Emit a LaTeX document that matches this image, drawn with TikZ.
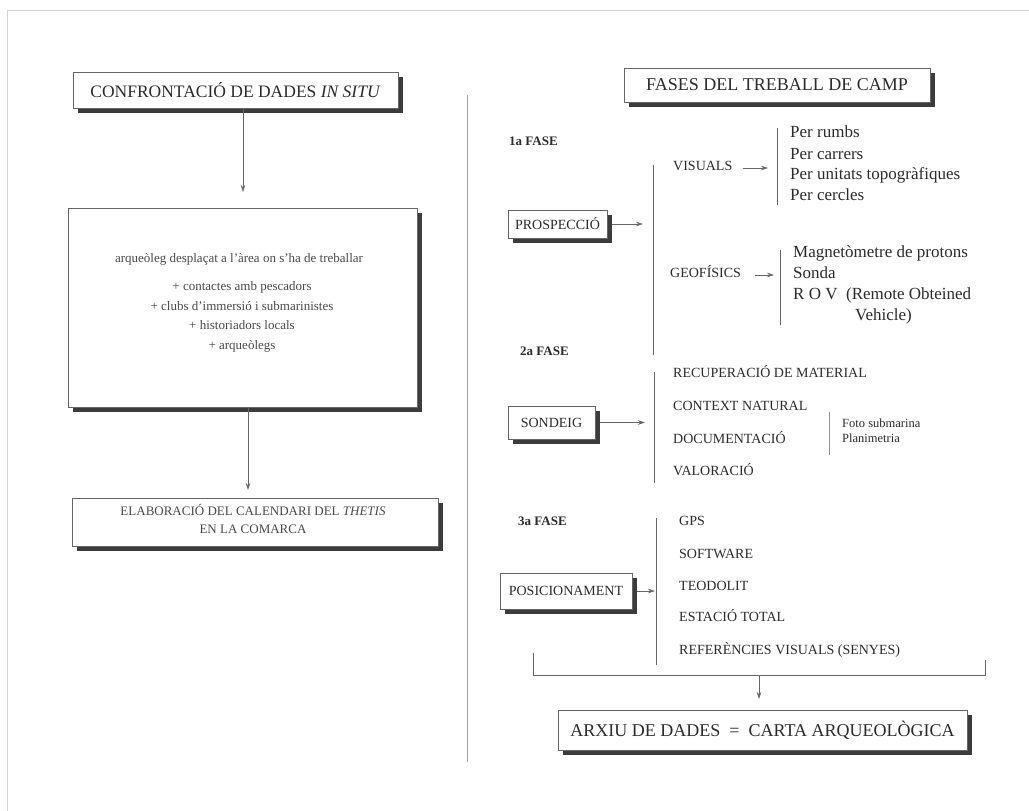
\documentclass[tikz,border=0pt]{standalone}
\usepackage{fontspec}
\setmainfont{Liberation Serif}
\usetikzlibrary{arrows.meta,shadows}
\definecolor{ink}{HTML}{2c2c2c}
\definecolor{inklight}{HTML}{4a4a4a}
\definecolor{linec}{HTML}{666666}
\definecolor{shadowc}{HTML}{3c3c3c}
\definecolor{framec}{HTML}{d4d4d4}
\tikzset{
  sbox/.style={draw=linec, line width=0.6pt, fill=white, inner sep=0pt, text=ink,
    drop shadow={shadow xshift=5pt, shadow yshift=-5pt, fill=shadowc, opacity=1}},
  lab/.style={anchor=west, inner sep=0pt, text=ink, text height=0.7em, text depth=0.2em},
  ctr/.style={inner sep=0pt, text=inklight, text height=0.7em, text depth=0.2em},
  capsA/.style={font=\fontsize{14}{16}\selectfont},
  listB/.style={font=\fontsize{17}{20}\selectfont},
  phase/.style={font=\fontsize{13}{15}\selectfont\bfseries},
  small/.style={font=\fontsize{13}{15}\selectfont},
  tiny/.style={font=\fontsize{12.5}{14}\selectfont},
  rule/.style={draw=linec, line width=0.6pt},
  arr/.style={draw=linec, line width=0.6pt, -{Stealth[length=7pt,width=4.5pt]}}
}
\begin{document}
\begin{tikzpicture}[x=1pt,y=-1pt]
\useasboundingbox (0,0) rectangle (1029,811);
\fill[white] (0,0) rectangle (1029,811);
% page frame from the scan
\draw[framec, line width=0.8pt] (7,811) -- (7,10) -- (1029,10);

% ---------- left column ----------
\node[sbox, minimum width=325pt, minimum height=36pt, font=\fontsize{17.5}{20}\selectfont] (conf) at (235.5,90)
  {CONFRONTACIÓ DE DADES \textit{IN SITU}};
\node[sbox, minimum width=349pt, minimum height=199pt] (big) at (242.5,307.5) {};
\node[ctr, small] (b1) at (239,260) {arqueòleg desplaçat a l'àrea on s'ha de treballar};
\node[ctr, small] (b2) at (242,288) {+ contactes amb pescadors};
\node[ctr, small] (b3) at (242,308) {+ clubs d'immersió i submarinistes};
\node[ctr, small] (b4) at (242,327) {+ historiadors locals};
\node[ctr, small] (b5) at (242,347) {+ arqueòlegs};
\node[sbox, minimum width=366pt, minimum height=48pt] (elab) at (255,522) {};
\node[ctr, small] (e1) at (253,513) {ELABORACIÓ DEL CALENDARI DEL \textit{THETIS}};
\node[ctr, small] (e2) at (253,531) {EN LA COMARCA};

\coordinate (a1) at (243,192);
\draw[arr] (conf.south -| a1) -- (a1);
\coordinate (a2) at (248,490);
\draw[arr] (big.south -| a2) -- (a2);

% divider
\coordinate (dvt) at (467,95);
\coordinate (dvb) at (467,762);
\draw[draw=linec!60, line width=0.6pt] (dvt) -- (dvb);

% ---------- right column ----------
\node[sbox, minimum width=306pt, minimum height=34pt, font=\fontsize{18}{21}\selectfont] (fases) at (777,85)
  {FASES DEL TREBALL DE CAMP};

% 1a fase
\node[lab, phase] (f1) at (509,143) {1a FASE};
\node[sbox, capsA, minimum width=99pt, minimum height=28pt] (prosp) at (557.5,224) {PROSPECCIÓ};
\coordinate (l1t) at (653,165);
\coordinate (l1b) at (653,355);
\draw[rule] (l1t) -- (l1b);
\coordinate (p1) at (643,224);
\draw[arr] ([xshift=5pt]prosp.east) -- (p1);

\node[lab, capsA] (vis) at (673,168) {VISUALS};
\coordinate (v1) at (768,168);
\draw[arr] ([xshift=10pt]vis.east) -- (v1);
\draw[rule] (777,128) -- (777,205);
\node[lab, listB] (v-a) at (790,135) {Per rumbs};
\node[lab, listB] (v-b) at (790,157) {Per carrers};
\node[lab, listB] (v-c) at (790,177) {Per unitats topogràfiques};
\node[lab, listB] (v-d) at (790,198) {Per cercles};

\node[lab, capsA] (geo) at (670,275) {GEOFÍSICS};
\coordinate (g1) at (774,275);
\draw[arr] ([xshift=14pt]geo.east) -- (g1);
\draw[rule] (780,250) -- (780,325);
\node[lab, listB] (g-a) at (793,255) {Magnetòmetre de protons};
\node[lab, listB] (g-b) at (793,276) {Sonda};
\node[lab, listB] (g-c) at (793,297) {R O V~ (Remote Obteined};
\node[lab, listB] (g-d) at (855,318) {Vehicle)};

% 2a fase
\node[lab, phase] (f2) at (520,353) {2a FASE};
\node[sbox, capsA, minimum width=87pt, minimum height=33pt] (sond) at (551.5,422.5) {SONDEIG};
\draw[rule] (654,372) -- (654,483);
\coordinate (s1) at (645,422.5);
\draw[arr] ([xshift=5pt]sond.east) -- (s1);
\node[lab, capsA] (r-a) at (673,375) {RECUPERACIÓ DE MATERIAL};
\node[lab, capsA] (r-b) at (673,408) {CONTEXT NATURAL};
\node[lab, capsA] (r-c) at (673,441) {DOCUMENTACIÓ};
\node[lab, capsA] (r-d) at (673,473) {VALORACIÓ};
\draw[draw=linec!70, line width=0.5pt] (829,412) -- (829,455);
\node[lab, tiny] (ft) at (842,425) {Foto submarina};
\node[lab, tiny] (pl) at (842,440) {Planimetria};

% 3a fase
\node[lab, phase] (f3) at (518,523) {3a FASE};
\node[sbox, capsA, minimum width=132pt, minimum height=36pt] (posic) at (566,591) {POSICIONAMENT};
\draw[rule] (656,518) -- (656,665);
\coordinate (q1) at (655,591);
\draw[arr] ([xshift=5pt]posic.east) -- (q1);
\node[lab, capsA] (k-a) at (679,523) {GPS};
\node[lab, capsA] (k-b) at (679,556) {SOFTWARE};
\node[lab, capsA] (k-c) at (679,588) {TEODOLIT};
\node[lab, capsA] (k-d) at (679,619) {ESTACIÓ TOTAL};
\node[lab, capsA] (k-e) at (679,652) {REFERÈNCIES VISUALS (SENYES)};

% bracket and final box
\coordinate (bl) at (533,653);
\coordinate (br) at (985,660);
\coordinate (bm) at (759,675);
\draw[rule] (bl) -- (bl |- bm) -- (br |- bm) -- (br);
\node[sbox, minimum width=409pt, minimum height=40pt, font=\fontsize{18}{21}\selectfont] (arxiu) at (762.5,730)
  {ARXIU DE DADES~ = ~CARTA ARQUEOLÒGICA};
\coordinate (m1) at (759,699);
\draw[arr] (bm) -- (m1);
\end{tikzpicture}
\end{document}
